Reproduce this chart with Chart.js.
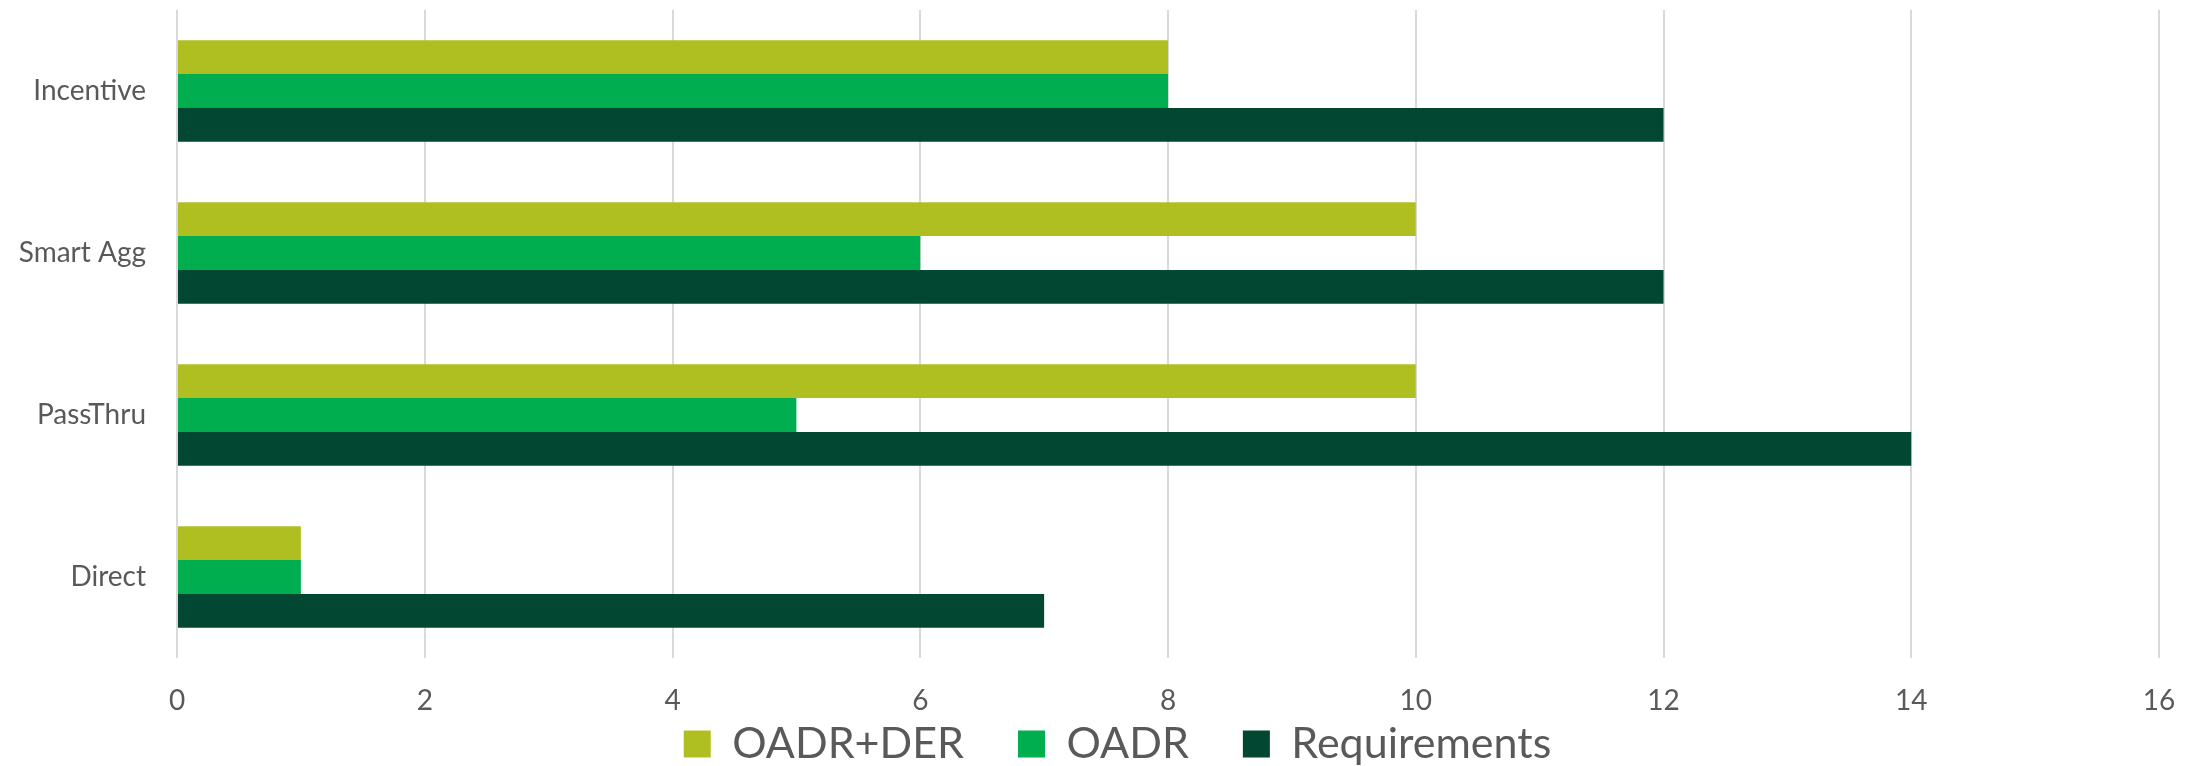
<!DOCTYPE html>
<html>
<head>
<meta charset="utf-8">
<script src="https://cdn.jsdelivr.net/npm/chart.js@4/dist/chart.umd.min.js"></script>
<style>
html,body{margin:0;padding:0;background:#fff;}
#wrap{width:2190px;height:766px;position:relative;}
</style>
</head>
<body>
<div id="wrap"><canvas id="c" width="2190" height="766"></canvas></div>
<script>
const categories = ['Incentive', 'Smart Agg', 'PassThru', 'Direct'];
const seriesNames = ['OADR+DER', 'OADR', 'Requirements'];
const oadrDer = [8, 10, 10, 1];
const oadr = [8, 6, 5, 1];
const requirements = [12, 12, 14, 7];
const xTickLabels = ['0', '2', '4', '6', '8', '10', '12', '14', '16'];

const colors = ['#AFBF22', '#00AE50', '#014732'];
const textColor = '#595959';
const FONT = 'Lato, "Open Sans", sans-serif';

const legendShift = {
  id: 'legendShift',
  afterLayout(chart) {
    const lg = chart.legend;
    if (!lg) return;
    const pad = lg.options.labels.padding;
    const fs = lg.options.labels.font.size;
    const h = lg.height;
    lg.top = 744 - pad - fs / 2;
    lg.bottom = lg.top + h;
    lg.left += 38;
    lg.right += 38;
  }
};

new Chart(document.getElementById('c'), {
  type: 'bar',
  data: {
    labels: categories,
    datasets: [
      { label: seriesNames[0], data: oadrDer, backgroundColor: colors[0] },
      { label: seriesNames[1], data: oadr, backgroundColor: colors[1] },
      { label: seriesNames[2], data: requirements, backgroundColor: colors[2] }
    ]
  },
  options: {
    indexAxis: 'y',
    responsive: false,
    animation: false,
    devicePixelRatio: 1,
    layout: { padding: { top: 10, right: 31, left: 0, bottom: -59 } },
    datasets: { bar: { barPercentage: 1.0, categoryPercentage: 0.626, borderWidth: 0 } },
    scales: {
      x: {
        min: 0, max: 16,
        grid: { color: '#D9D9D9', lineWidth: 2, drawTicks: false },
        border: { display: false },
        ticks: {
          stepSize: 2,
          color: textColor, font: { family: FONT, size: 28 }, padding: 26, maxRotation: 0, autoSkip: false,
          callback: (v, i) => xTickLabels[i]
        },
        afterFit(scale) { scale.height = 60; scale.paddingLeft = 0; scale.paddingRight = 0; }
      },
      y: {
        grid: { display: false, drawTicks: false },
        border: { display: false },
        ticks: { color: textColor, font: { family: FONT, size: 28 }, padding: 31 },
        afterFit(scale) { scale.width = 177; scale.paddingTop = 0; scale.paddingBottom = 0; }
      }
    },
    plugins: {
      legend: {
        position: 'bottom',
        labels: {
          color: textColor,
          font: { family: FONT, size: 43 },
          boxWidth: 27, boxHeight: 27,
          padding: 54
        }
      },
      tooltip: { enabled: false }
    }
  },
  plugins: [legendShift]
});
</script>
</body>
</html>
